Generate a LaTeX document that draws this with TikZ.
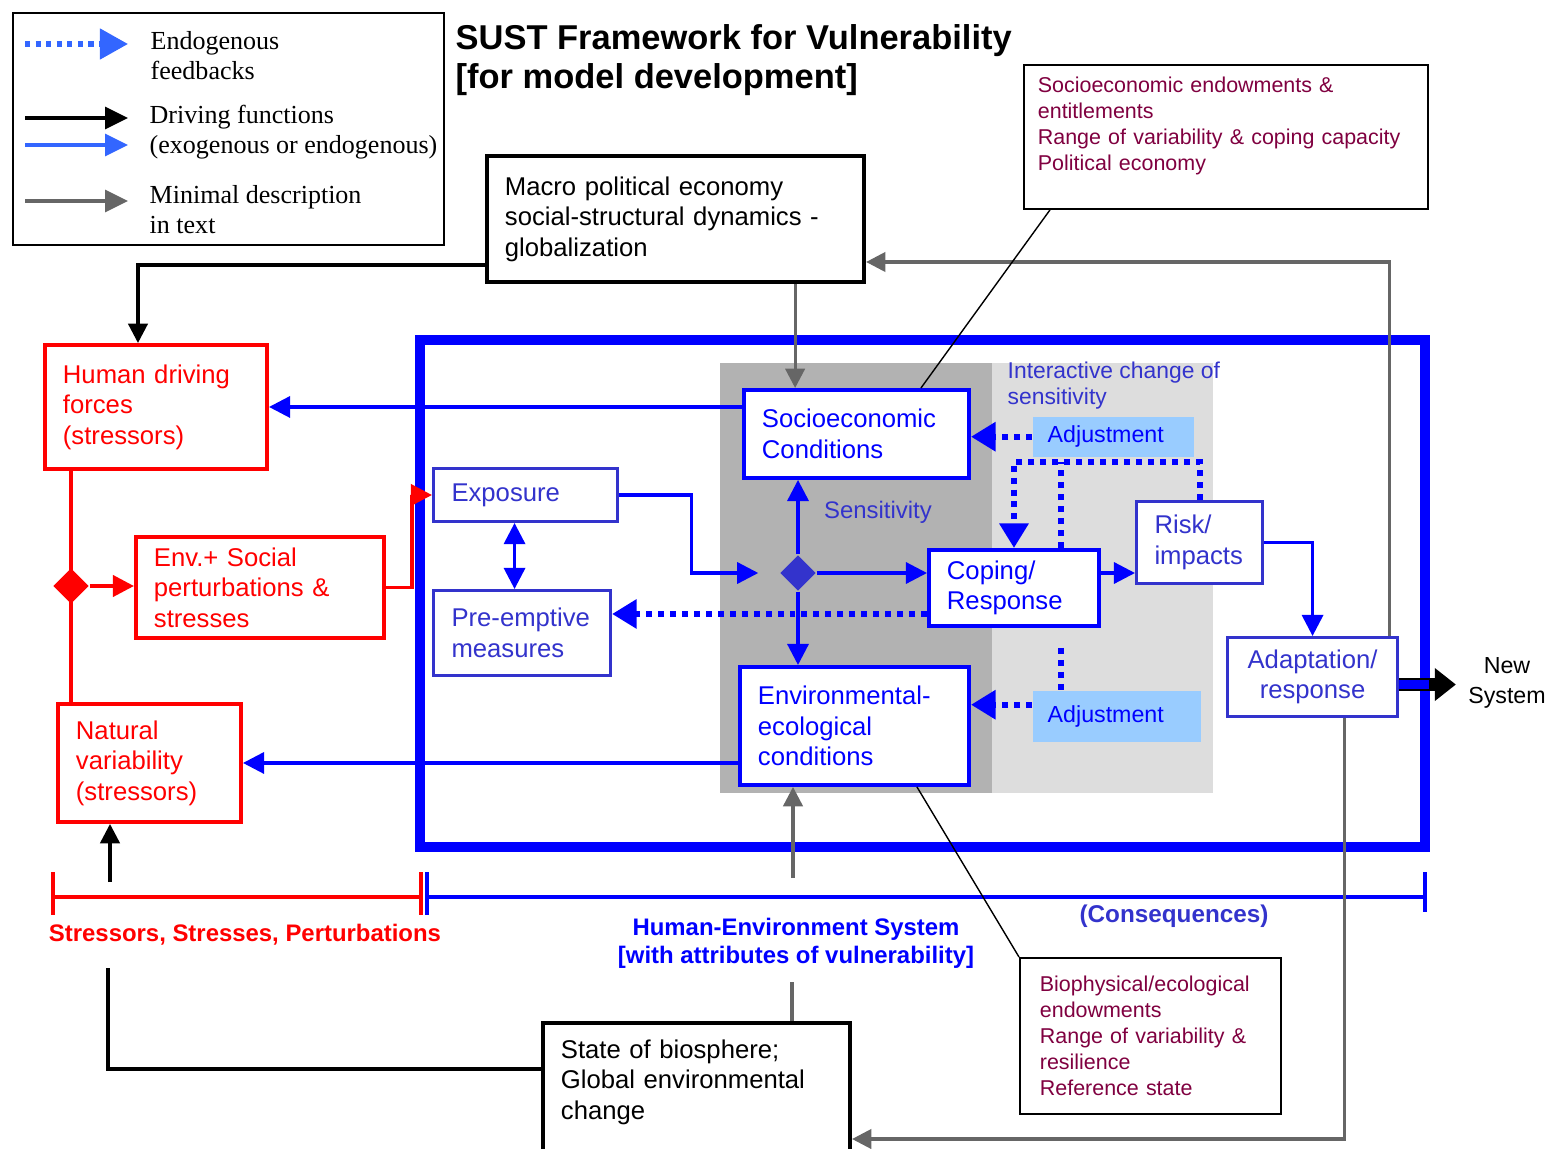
\documentclass[tikz,border=0pt]{standalone}
\usepackage{fontspec}
\setmainfont{Liberation Sans}
\newfontfamily\legfont{Liberation Serif}
\usepackage{tikz}
\usetikzlibrary{arrows.meta, positioning, shapes.geometric}
\definecolor{hblue}{HTML}{0000FF}
\definecolor{sblue}{HTML}{3333CC}
\definecolor{lgblue}{HTML}{3366FF}
\definecolor{hred}{HTML}{FF0000}
\definecolor{mgray}{HTML}{666666}
\definecolor{darkbg}{HTML}{B2B2B2}
\definecolor{lightbg}{HTML}{DDDDDD}
\definecolor{adjblue}{HTML}{99CCFF}
\definecolor{maroon}{HTML}{800040}
\newcommand{\bxfont}{\fontsize{7.3}{8.7}\selectfont}
\newcommand{\ntfont}{\fontsize{6.1}{7.4}\selectfont}
\newcommand{\adjfont}{\fontsize{6.6}{7.4}\selectfont}
\newcommand{\lgfont}{\legfont\fontsize{7.4}{8.5}\selectfont}
\tikzset{
  basebox/.style={draw, fill=white, anchor=north west, align=left,
    inner xsep=0.18cm, inner ysep=0pt, font=\bxfont},
  bluebox/.style={basebox, draw=hblue, text=hblue, line width=1.1pt},
  softbox/.style={basebox, draw=sblue, text=sblue, line width=0.85pt},
  redbox/.style={basebox, draw=hred, text=hred, line width=1.1pt},
  blackbox/.style={basebox, draw=black, line width=1.1pt},
  notebox/.style={basebox, draw=black, line width=0.5pt, text=maroon, font=\ntfont},
  adjbox/.style={fill=adjblue, anchor=north west, align=left, inner xsep=0.15cm,
    inner ysep=0pt, text=hblue, font=\adjfont},
  bluearrow/.style={draw=hblue, line width=0.9pt, -{Triangle[length=6pt,width=6pt]}},
  bluedouble/.style={draw=hblue, line width=0.9pt,
    {Triangle[length=6pt,width=6pt]}-{Triangle[length=6pt,width=6pt]}},
  redarrow/.style={draw=hred, line width=1.1pt, -{Triangle[length=6pt,width=6pt]}},
  blackarrow/.style={draw=black, line width=0.9pt, -{Triangle[length=5.5pt,width=5.5pt]}},
  grayarrow/.style={draw=mgray, line width=0.9pt, -{Triangle[length=5.5pt,width=5.5pt]}},
  dotline/.style={draw=hblue, line width=1.7pt, dash pattern=on 1.7pt off 1.7pt},
  dotarrow/.style={dotline, -{Triangle[length=7pt,width=8pt]}},
  calloutline/.style={draw=black, line width=0.4pt},
}

\begin{document}
\begin{tikzpicture}[x=0.01cm, y=-0.01cm]
  \useasboundingbox (0,0) rectangle (1552,1149);
  \clip (0,0) rectangle (1552,1149);

  % shaded sensitivity areas and system frame
  \fill[darkbg] (720,363) rectangle (992,793);
  \fill[lightbg] (992,363) rectangle (1213,793);
  \draw[hblue, line width=2.8pt] (420,340) rectangle (1425,847);

  % brackets under the frame
  \draw[hred, line width=1.3pt] (53,872) -- (53,915) (53,897) -- (421,897) (421,872) -- (421,915);
  \draw[hblue, line width=1.3pt] (427,872) -- (427,915) (427,897) -- (1425,897) (1425,872) -- (1425,912);

  % legend
  \node[draw, line width=0.6pt, anchor=north west, minimum width=4.31cm, minimum height=2.32cm] (legend) at (12,12) {};
  \coordinate (ldot) at (25,44);
  \coordinate (lblack) at (25,118);
  \coordinate (lblue) at (25,145);
  \coordinate (lgray) at (25,201);
  \draw[lgblue, line width=1.5pt, dash pattern=on 1.5pt off 1.5pt, -{Triangle[length=8pt,width=8.5pt]}] (ldot) -- ++(103,0);
  \draw[black, line width=0.9pt, -{Triangle[length=6.5pt,width=6.2pt]}] (lblack) -- ++(103,0);
  \draw[lgblue, line width=0.9pt, -{Triangle[length=6.5pt,width=6.2pt]}] (lblue) -- ++(103,0);
  \draw[mgray, line width=0.9pt, -{Triangle[length=6.5pt,width=6.2pt]}] (lgray) -- ++(103,0);
  \node[anchor=west, align=left, inner sep=0, font=\lgfont] (lgtext1) at (150,56) {Endogenous\\feedbacks};
  \node[anchor=west, align=left, inner sep=0, font=\lgfont] (lgtext2) at (149,132) {Driving functions\\(exogenous or endogenous)};
  \node[anchor=west, align=left, inner sep=0, font=\lgfont] (lgtext3) at (149,210) {Minimal description\\in text};

  % title
  \node[anchor=west, align=left, inner sep=0, font=\fontsize{9.8}{11.3}\selectfont\bfseries] (title) at (455,60)
    {SUST Framework for Vulnerability\\{}[for model development]};

  % outer boxes
  \node[blackbox, text width=3.41cm, minimum height=1.26cm] (macro) at (485,154)
    {Macro political economy\\social-structural dynamics -\\globalization};
  \node[notebox, inner xsep=0.14cm, text width=3.76cm, minimum height=1.44cm] (socnote) at (1023,64)
    {Socioeconomic endowments \&\\entitlements\\Range of variability \& coping capacity\\Political economy\\\mbox{}};
  \node[blackbox, text width=2.71cm, minimum height=1.44cm] (state) at (541,1021)
    {State of biosphere;\\Global environmental\\change\\\mbox{}};
  \node[notebox, inner xsep=0.2cm, text width=2.21cm, minimum height=1.56cm] (bionote) at (1019,957)
    {Biophysical/ecological\\endowments\\Range of variability \&\\resilience\\Reference state};

  % stressors
  \node[redbox, text width=1.86cm, minimum height=1.24cm] (human) at (43,343) {Human driving\\forces\\(stressors)};
  \node[redbox, text width=2.12cm, minimum height=1.01cm] (envsoc) at (134,535) {Env.+ Social\\perturbations \&\\stresses};
  \node[redbox, text width=1.47cm, minimum height=1.18cm] (natural) at (56,702) {Natural\\variability\\(stressors)};
  \node[diamond, fill=hred, minimum size=0.36cm, inner sep=0] (rdiam) at (71,586) {};

  % human-environment system
  \node[softbox, text width=1.48cm, minimum height=0.53cm] (exposure) at (432,467) {Exposure};
  \node[softbox, text width=1.41cm, minimum height=0.85cm] (preempt) at (432,589) {Pre-emptive\\measures};
  \node[bluebox, text width=1.89cm, minimum height=0.88cm] (socio) at (742,388) {Socioeconomic\\Conditions};
  \node[bluebox, text width=1.93cm, minimum height=1.18cm] (envcond) at (738,665) {Environmental-\\ecological\\conditions};
  \node[bluebox, text width=1.34cm, minimum height=0.76cm] (coping) at (927,548) {Coping/\\Response};
  \node[softbox, text width=0.90cm, minimum height=0.82cm] (risk) at (1135,500) {Risk/\\impacts};
  \node[softbox, align=center, text width=1.34cm, minimum height=0.79cm] (adapt) at (1226,636) {Adaptation/\\response};
  \node[adjbox, text width=1.31cm, minimum height=0.40cm] (adjtop) at (1032,416) {Adjustment};
  \node[adjbox, text width=1.38cm, minimum height=0.51cm] (adjbot) at (1032,690) {Adjustment};
  \node[diamond, fill=sblue, minimum size=0.36cm, inner sep=0] (bdiam) at (798,573) {};
  \node[text=sblue, font=\fontsize{6.8}{8}\selectfont] (sens) at (878,512) {Sensitivity};
  \node[anchor=west, align=left, inner sep=0, text=sblue, font=\fontsize{6.5}{7.4}\selectfont] (interact) at (1007,386)
    {Interactive change of\\sensitivity};
  \node[align=center, font=\fontsize{6.6}{8.5}\selectfont] (newsys) at (1507,683) {New\\System};

  % labels
  \node[text=hred, font=\fontsize{6.8}{8}\selectfont\bfseries] (ssplabel) at (245,935) {Stressors, Stresses, Perturbations};
  \node[text=hblue, align=center, font=\fontsize{6.8}{7.9}\selectfont\bfseries] (heslabel) at (796,943)
    {Human-Environment System\\{}[with attributes of vulnerability]};
  \node[text=sblue, font=\fontsize{6.9}{8}\selectfont\bfseries] (conseq) at (1174,916) {(Consequences)};

  % driving functions
  \draw[blackarrow] ([yshift=-0.46cm]macro.west) -| ([xshift=-0.18cm]human.north);
  \draw[hred, line width=1.1pt] (human.south -| rdiam) -- (natural.north -| rdiam);
  \draw[redarrow] (rdiam.east) -- (envsoc.west |- rdiam);
  \draw[redarrow] (envsoc.east) -- ++(26,0) |- (exposure.west);
  \draw[bluearrow] (socio.west |- human.east) -- (human.east);
  \draw[bluearrow] (envcond.west |- natural.east) -- (natural.east);
  \draw[bluedouble] ([xshift=-0.11cm]exposure.south) -- ([xshift=-0.11cm]exposure.south |- preempt.north);
  \draw[bluearrow] (exposure.east) -- ++(72,0) |- ([xshift=-0.21cm]bdiam.west);
  \draw[bluearrow] (bdiam.north) -- (bdiam.north |- socio.south);
  \draw[bluearrow] (bdiam.south) -- (bdiam.south |- envcond.north);
  \draw[bluearrow] (bdiam.east) -- (bdiam.east -| coping.west);
  \draw[bluearrow] (coping.east |- bdiam) -- (risk.west |- bdiam);
  \draw[bluearrow] (risk.east) -| (adapt.north);
  \draw[black, line width=3.8pt, -{Triangle[length=6pt,width=9pt]}] ([yshift=-0.075cm]adapt.east) -- ([yshift=-0.075cm]adapt.east -| newsys.west);
  \draw[hblue, line width=2.4pt] ([yshift=-0.075cm]adapt.east) -- ++(30,0);

  % endogenous feedbacks
  \draw[dotarrow] (adjtop.west) -- (adjtop.west -| socio.east);
  \draw[dotarrow] (risk.north) -- ++(0,-38) -| (coping.north);
  \draw[dotline] ([xshift=0.47cm]coping.north) -- ++(0,-86);
  \draw[dotarrow] ([yshift=-0.26cm]coping.west) -- ([yshift=-0.26cm]coping.west -| preempt.east);
  \draw[dotline, shorten <=0.2cm] ([xshift=0.47cm]coping.south) -- ([xshift=0.47cm]coping.south |- adjbot.north);
  \draw[dotarrow] ([yshift=0.115cm]adjbot.west) -- ([yshift=0.115cm]adjbot.west -| envcond.east);

  % minimal description
  \draw[grayarrow] ([xshift=1.195cm]macro.south) -- ([xshift=1.195cm]macro.south |- socio.north);
  \draw[grayarrow] ([xshift=0.77cm]adapt.north) |- ([yshift=-0.43cm]macro.east);
  \draw[grayarrow] ([xshift=0.32cm]adapt.south) |- ([yshift=-0.44cm]state.east);
  \coordinate (hesup) at (793,878);
  \coordinate (hesdown) at (792,982);
  \draw[grayarrow] (hesup) -- (hesup |- envcond.south);
  \draw[mgray, line width=0.9pt] (hesdown) -- (hesdown |- state.north);
  \coordinate (sspup) at (110,882);
  \coordinate (sspdown) at (108,968);
  \draw[blackarrow] (sspup) -- (sspup |- natural.south);
  \draw[black, line width=0.9pt] (sspdown) |- ([yshift=0.26cm]state.west);

  % callouts
  \draw[calloutline] ([xshift=0.27cm]socnote.south west) -- ([xshift=-0.5cm]socio.north east);
  \draw[calloutline] ([xshift=-0.54cm]envcond.south east) -- (bionote.north west);
\end{tikzpicture}
\end{document}
